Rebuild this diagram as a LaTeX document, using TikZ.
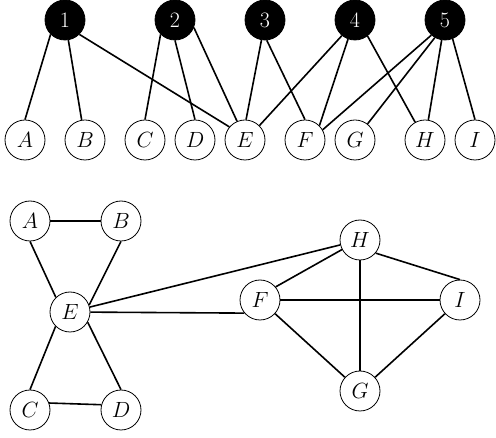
\RequirePackage{fix-cm}
\documentclass[tikz,border=0pt]{standalone}
\begin{document}
\begin{tikzpicture}[x=1pt,y=-1pt,
  vtx/.style={circle, draw, fill=white, line width=0.8pt, minimum size=40pt, inner sep=0pt, font=\fontsize{22}{26}\selectfont},
  topv/.style={circle, draw=black, fill=black, text=white, line width=0.8pt, minimum size=40pt, inner sep=0pt, font=\fontsize{22}{26}\selectfont},
  link/.style={line width=1.6pt}]
\useasboundingbox (0,0) rectangle (496,438);
% top bipartite
\node[topv] (n1) at (65,20) {1};
\node[topv] (n2) at (175,20) {2};
\node[topv] (n3) at (265,20) {3};
\node[topv] (n4) at (355,20) {4};
\node[topv] (n5) at (445,20) {5};
\node[vtx] (uA) at (25,140) {$A$};
\node[vtx] (uB) at (85,140) {$B$};
\node[vtx] (uC) at (145,140) {$C$};
\node[vtx] (uD) at (195,140) {$D$};
\node[vtx] (uE) at (245,140) {$E$};
\node[vtx] (uF) at (305,140) {$F$};
\node[vtx] (uG) at (355,140) {$G$};
\node[vtx] (uH) at (425,140) {$H$};
\node[vtx] (uI) at (475,140) {$I$};
\draw[link] (n1.225) -- (uA.north);
\draw[link] (n1) -- (uB);
\draw[link] (n1.315) -- (uE.140);
\draw[link] (n2.225) -- (uC.north);
\draw[link] (n2.south) -- (uD.north);
\draw[link] (n2.338) -- (uE.113);
\draw[link] (n3.260) -- (uE.87);
\draw[link] (n3.275) -- (uF.north);
\draw[link] (n4.230) -- (uE.45);
\draw[link] (n4.250) -- (uF.45);
\draw[link] (n4.308) -- (uH.119);
\draw[link] (n5.228) -- (uF.30);
\draw[link] (n5.240) -- (uG.52);
\draw[link] (n5) -- (uH);
\draw[link] (n5.292) -- (uI.north);
% lower graph
\node[vtx] (lA) at (30,221) {$A$};
\node[vtx] (lB) at (121,221) {$B$};
\node[vtx] (lE) at (70,312) {$E$};
\node[vtx] (lC) at (30,410) {$C$};
\node[vtx] (lD) at (121,410) {$D$};
\node[vtx] (lF) at (260,300) {$F$};
\node[vtx] (lH) at (360,240) {$H$};
\node[vtx] (lI) at (460,300) {$I$};
\node[vtx] (lG) at (360,391) {$G$};
\draw[link] (lA) -- (lB);
\draw[link] (lA.south) -- (lE.134);
\draw[link] (lB.south) -- (lE.20);
\draw[link] (lC.north) -- (lE.225);
\draw[link] (lD.north) -- (lE.330);
\draw[link] (lC.20) -- (lD.165);
\draw[link] (lE) -- (lH);
\draw[link] (lE) -- (lF.220);
\draw[link] (lF.40) -- (lH.208);
\draw[link] (lF) -- (lI);
\draw[link] (lF) -- (lG);
\draw[link] (lH) -- (lG);
\draw[link] (lH.320) -- (lI.north);
\draw[link] (lI) -- (lG);
\end{tikzpicture}
\end{document}
